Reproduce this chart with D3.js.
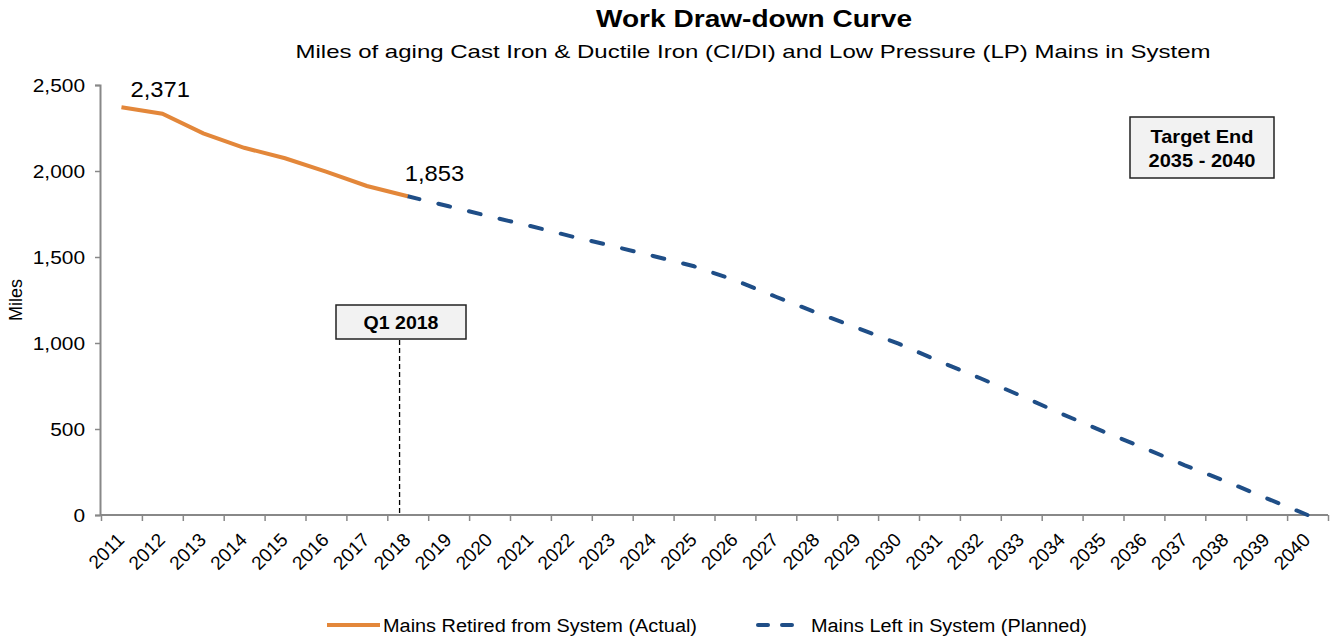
<!DOCTYPE html>
<html>
<head>
<meta charset="utf-8">
<script src="https://cdn.jsdelivr.net/npm/d3@7"></script>
<style>
  body { margin: 0; background: #fff; }
  svg { font-family: "Liberation Sans", Arial, sans-serif; }
</style>
</head>
<body>
<script>
const [width, height] = [1330, 637];

const years = d3.range(2011, 2041).map(String);
const actual = [2371, 2333, 2219, 2135, 2074, 1996, 1913, 1853];
const planned = [1853, 1795, 1736, 1680, 1620, 1564, 1506, 1446, 1365, 1269,
  1176, 1087, 996, 893, 795, 692, 587, 486, 390, 289, 196, 97, 0];
const yTicks = [0, 500, 1000, 1500, 2000, 2500];
const seriesNames = ['Mains Retired from System (Actual)', 'Mains Left in System (Planned)'];

const actualData = actual.map((v, i) => ({year: years[i], value: v}));
const plannedData = planned.map((v, i) => ({year: years[i + 7], value: v}));

const svg = d3.select('body')
  .append('svg')
  .attr('width', width)
  .attr('height', height);

// widen text a bit, the original is stretched horizontally
function stretch(sel, k) {
  sel.each(function() {
    const len = this.getComputedTextLength();
    d3.select(this)
      .attr('textLength', len * k)
      .attr('lengthAdjust', 'spacingAndGlyphs');
  });
}
function fit(sel, w) {
  sel.attr('textLength', w).attr('lengthAdjust', 'spacingAndGlyphs');
}

const x = d3.scaleBand()
  .domain(years)
  .range([101, 1328])
  .padding(0);
const xYear = d3.scaleLinear()
  .domain([2010.5, 2040.5])
  .range(x.range());
const y = d3.scaleLinear()
  .domain([0, 2500])
  .range([515, 85]);

const cx = d => x(d) + x.bandwidth() / 2;

// titles
svg.append('text')
  .attr('x', 754).attr('y', 27)
  .attr('text-anchor', 'middle')
  .style('font-size', '23px').style('font-weight', 'bold')
  .text('Work Draw-down Curve')
  .call(fit, 316);
svg.append('text')
  .attr('x', 753).attr('y', 58)
  .attr('text-anchor', 'middle')
  .style('font-size', '19px')
  .text('Miles of aging Cast Iron & Ductile Iron (CI/DI) and Low Pressure (LP) Mains in System')
  .call(fit, 915);

// y axis
const gy = svg.append('g')
  .attr('transform', `translate(${x.range()[0] - 1},0)`)
  .call(d3.axisLeft(y).tickValues(yTicks).tickSize(5).tickPadding(10).tickFormat(d3.format(',')));
gy.select('.domain').attr('stroke', '#888').attr('stroke-width', 2);
gy.selectAll('.tick line').attr('stroke', '#888').attr('stroke-width', 1.5);
gy.selectAll('.tick text').style('font-size', '19px').attr('fill', '#000')
  .call(stretch, 1.1);

svg.append('text')
  .attr('transform', `translate(22,${300}) rotate(-90)`)
  .attr('text-anchor', 'middle')
  .style('font-size', '18px')
  .text('Miles');

// x axis: boundary ticks
const gx = svg.append('g')
  .attr('transform', `translate(0,${y(0)})`)
  .call(d3.axisBottom(xYear).tickValues(d3.range(2010.5, 2041, 1)).tickSize(6).tickFormat(''));
gx.select('.domain').attr('stroke', '#888').attr('stroke-width', 2)
  .attr('d', `M${x.range()[0] - 1},0H${x.range()[1]}`);
gx.selectAll('.tick line').attr('stroke', '#888').attr('stroke-width', 1.5);

svg.append('g')
  .selectAll('text')
  .data(years)
  .enter()
  .append('text')
  .attr('transform', d => `translate(${cx(d) + 4},${541}) rotate(-45)`)
  .attr('text-anchor', 'end')
  .style('font-size', '19px')
  .text(d => d);

// Q1 2018 marker
const qx = xYear(2017.8);
svg.append('line')
  .attr('x1', qx).attr('x2', qx)
  .attr('y1', 340).attr('y2', y(0) - 2)
  .attr('stroke', '#000').attr('stroke-width', 1.3)
  .attr('stroke-dasharray', '5,3');
svg.append('rect')
  .attr('x', 336).attr('y', 305).attr('width', 130).attr('height', 34)
  .attr('fill', '#f2f2f2').attr('stroke', '#222').attr('stroke-width', 1.5);
svg.append('text')
  .attr('x', 401).attr('y', 329)
  .attr('text-anchor', 'middle')
  .style('font-size', '18px').style('font-weight', 'bold')
  .text('Q1 2018')
  .call(fit, 75);

// Target box
svg.append('rect')
  .attr('x', 1130).attr('y', 117).attr('width', 144).attr('height', 61)
  .attr('fill', '#f2f2f2').attr('stroke', '#222').attr('stroke-width', 1.5);
svg.append('text')
  .attr('x', 1202).attr('y', 143)
  .attr('text-anchor', 'middle')
  .style('font-size', '19px').style('font-weight', 'bold')
  .text('Target End')
  .call(fit, 103);
svg.append('text')
  .attr('x', 1202).attr('y', 167)
  .attr('text-anchor', 'middle')
  .style('font-size', '19px').style('font-weight', 'bold')
  .text('2035 - 2040')
  .call(fit, 107);

// lines
const line = d3.line()
  .x(d => cx(d.year))
  .y(d => y(d.value));

const plannedPath = svg.append('path')
  .datum(plannedData)
  .attr('d', line)
  .attr('fill', 'none')
  .attr('stroke', '#1f4e87')
  .attr('stroke-width', 4)
  .attr('stroke-linecap', 'round');
// tune the gap so the dashes start and finish on a dash
const dash = 12;
const total = plannedPath.node().getTotalLength();
const n = Math.round((total - dash) / 31);
const period = (total - dash) / n;
plannedPath.attr('stroke-dasharray', `${dash},${period - dash}`);

svg.append('path')
  .datum(actualData)
  .attr('d', line)
  .attr('fill', 'none')
  .attr('stroke', '#e3873a')
  .attr('stroke-width', 4);

// data labels (first and last actual point)
const labelled = [actualData[0], actualData[actualData.length - 1]];
const labelShift = [[9, -10], [-3, -15]];
svg.append('g')
  .selectAll('text')
  .data(labelled)
  .enter()
  .append('text')
  .attr('x', (d, i) => cx(d.year) + labelShift[i][0])
  .attr('y', (d, i) => y(d.value) + labelShift[i][1])
  .style('font-size', '22px')
  .text(d => d3.format(',')(d.value))
  .call(stretch, 1.08);

// legend
const legend = svg.append('g');
legend.append('line')
  .attr('x1', 327).attr('x2', 380).attr('y1', 625).attr('y2', 625)
  .attr('stroke', '#e3873a').attr('stroke-width', 4);
legend.append('text')
  .attr('x', 383).attr('y', 632)
  .style('font-size', '18px')
  .text(seriesNames[0])
  .call(fit, 314);
legend.append('line')
  .attr('x1', 758).attr('x2', 806).attr('y1', 625).attr('y2', 625)
  .attr('stroke', '#1f4e87').attr('stroke-width', 4)
  .attr('stroke-linecap', 'round')
  .attr('stroke-dasharray', '10,14');
legend.append('text')
  .attr('x', 811).attr('y', 632)
  .style('font-size', '18px')
  .text(seriesNames[1])
  .call(fit, 276);
</script>
</body>
</html>
